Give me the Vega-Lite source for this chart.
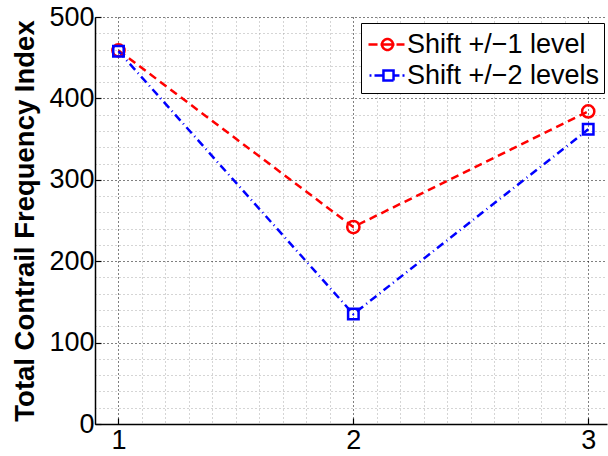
{
  "$schema": "https://vega.github.io/schema/vega-lite/v6.json",
  "width": 512,
  "height": 407,
  "autosize": {"type": "none"},
  "padding": {"left": 95, "top": 17, "right": 1, "bottom": 32},
  "config": {
    "font": "Liberation Sans",
    "view": {"stroke": null},
    "axis": {
      "domainColor": "#000",
      "domainWidth": 1.5,
      "tickColor": "#000",
      "tickWidth": 1.2,
      "tickSize": -6,
      "labelColor": "#000",
      "labelFontSize": 27,
      "labelFont": "Liberation Sans",
      "gridWidth": 1,
      "labelPadding": 12
    }
  },
  "data": {
    "values": [
      {"series": "Shift +/−1 level", "x": 1, "y": 459},
      {"series": "Shift +/−1 level", "x": 2, "y": 242},
      {"series": "Shift +/−1 level", "x": 3, "y": 384},
      {"series": "Shift +/−2 levels", "x": 1, "y": 458},
      {"series": "Shift +/−2 levels", "x": 2, "y": 135},
      {"series": "Shift +/−2 levels", "x": 3, "y": 362}
    ]
  },
  "encoding": {
    "x": {
      "field": "x",
      "type": "quantitative",
      "scale": {"domain": [0.9, 3.08], "nice": false, "zero": false},
      "axis": {
        "title": null,
        "values": [0.9, 1, 1.1, 1.2, 1.3, 1.4, 1.5, 1.6, 1.7, 1.8, 1.9, 2, 2.1, 2.2, 2.3, 2.4, 2.5, 2.6, 2.7, 2.8, 2.9, 3],
        "labelExpr": "abs(datum.value - round(datum.value)) < 0.001 ? format(datum.value, 'd') : ''",
        "labelOverlap": false,
        "labelFlush": false,
        "labelPadding": 9,
        "grid": true,
        "gridColor": {"condition": {"test": "abs(datum.value - round(datum.value)) < 0.001", "value": "#000"}, "value": "#aaaaaa"},
        "gridDash": [1, 3],
        "tickOpacity": {"condition": {"test": "abs(datum.value - round(datum.value)) < 0.001", "value": 1}, "value": 0}
      }
    },
    "y": {
      "field": "y",
      "type": "quantitative",
      "scale": {"domain": [0, 500], "nice": false},
      "axis": {
        "title": "Total Contrail Frequency Index",
        "titleFontSize": 27.5,
        "titleFontWeight": "bold",
        "titleColor": "#000",
        "titlePadding": 9,
        "values": [0, 20, 40, 60, 80, 100, 120, 140, 160, 180, 200, 220, 240, 260, 280, 300, 320, 340, 360, 380, 400, 420, 440, 460, 480, 500],
        "labelExpr": "datum.value % 100 === 0 ? datum.label : ''",
        "labelOverlap": false,
        "labelFlush": false,
        "labelPadding": 7,
        "grid": true,
        "gridColor": {"condition": {"test": "datum.value % 100 === 0", "value": "#000"}, "value": "#aaaaaa"},
        "gridDash": [1, 3],
        "tickOpacity": {"condition": {"test": "datum.value % 100 === 0", "value": 1}, "value": 0}
      }
    },
    "color": {
      "field": "series",
      "type": "nominal",
      "scale": {"domain": ["Shift +/−1 level", "Shift +/−2 levels"], "range": ["#ff0000", "#0000ff"]},
      "legend": {
        "title": null,
        "orient": "none",
        "legendX": 266,
        "legendY": 6,
        "strokeColor": "#000",
        "fillColor": "#fff",
        "padding": 4,
        "labelFontSize": 27,
        "labelFont": "Liberation Sans",
        "labelColor": "#000",
        "labelLimit": 400,
        "labelOffset": 7,
        "symbolSize": 1024,
        "symbolStrokeWidth": 2.5,
        "symbolDash": [1, 0],
        "symbolFillColor": "transparent",
        "rowPadding": 0
      }
    }
  },
  "layer": [
    {
      "transform": [{"filter": "datum.x > 100"}],
      "mark": {"type": "point", "filled": false, "strokeWidth": 2.5, "opacity": 1},
      "encoding": {
        "shape": {
          "field": "series",
          "type": "nominal",
          "scale": {"domain": ["Shift +/−1 level", "Shift +/−2 levels"], "range": ["M-0.875,0H-0.31M-0.125,0H0.75M0.875,0H1.375M0.65,0A0.34,0.34 0 1,1 -0.03,0A0.34,0.34 0 1,1 0.65,0", "M-0.81,0H-0.69M-0.5,0H0.06M0.69,0H1.06M1.25,0H1.375M0.06,-0.31H0.69V0.31H0.06Z"]}
        }
      }
    },
    {
      "transform": [{"filter": "datum.series === 'Shift +/−1 level'"}],
      "mark": {"type": "line", "strokeWidth": 2.5, "strokeDash": [8, 5]}
    },
    {
      "transform": [{"filter": "datum.series === 'Shift +/−2 levels'"}],
      "mark": {"type": "line", "strokeWidth": 2.5, "strokeDash": [8, 4, 1, 4]}
    },
    {
      "transform": [{"filter": "datum.series === 'Shift +/−1 level'"}],
      "mark": {"type": "point", "shape": "circle", "size": 150, "filled": false, "strokeWidth": 2.5, "opacity": 1}
    },
    {
      "transform": [{"filter": "datum.series === 'Shift +/−2 levels'"}],
      "mark": {"type": "point", "shape": "square", "size": 110, "filled": false, "strokeWidth": 2.5, "opacity": 1}
    }
  ]
}
